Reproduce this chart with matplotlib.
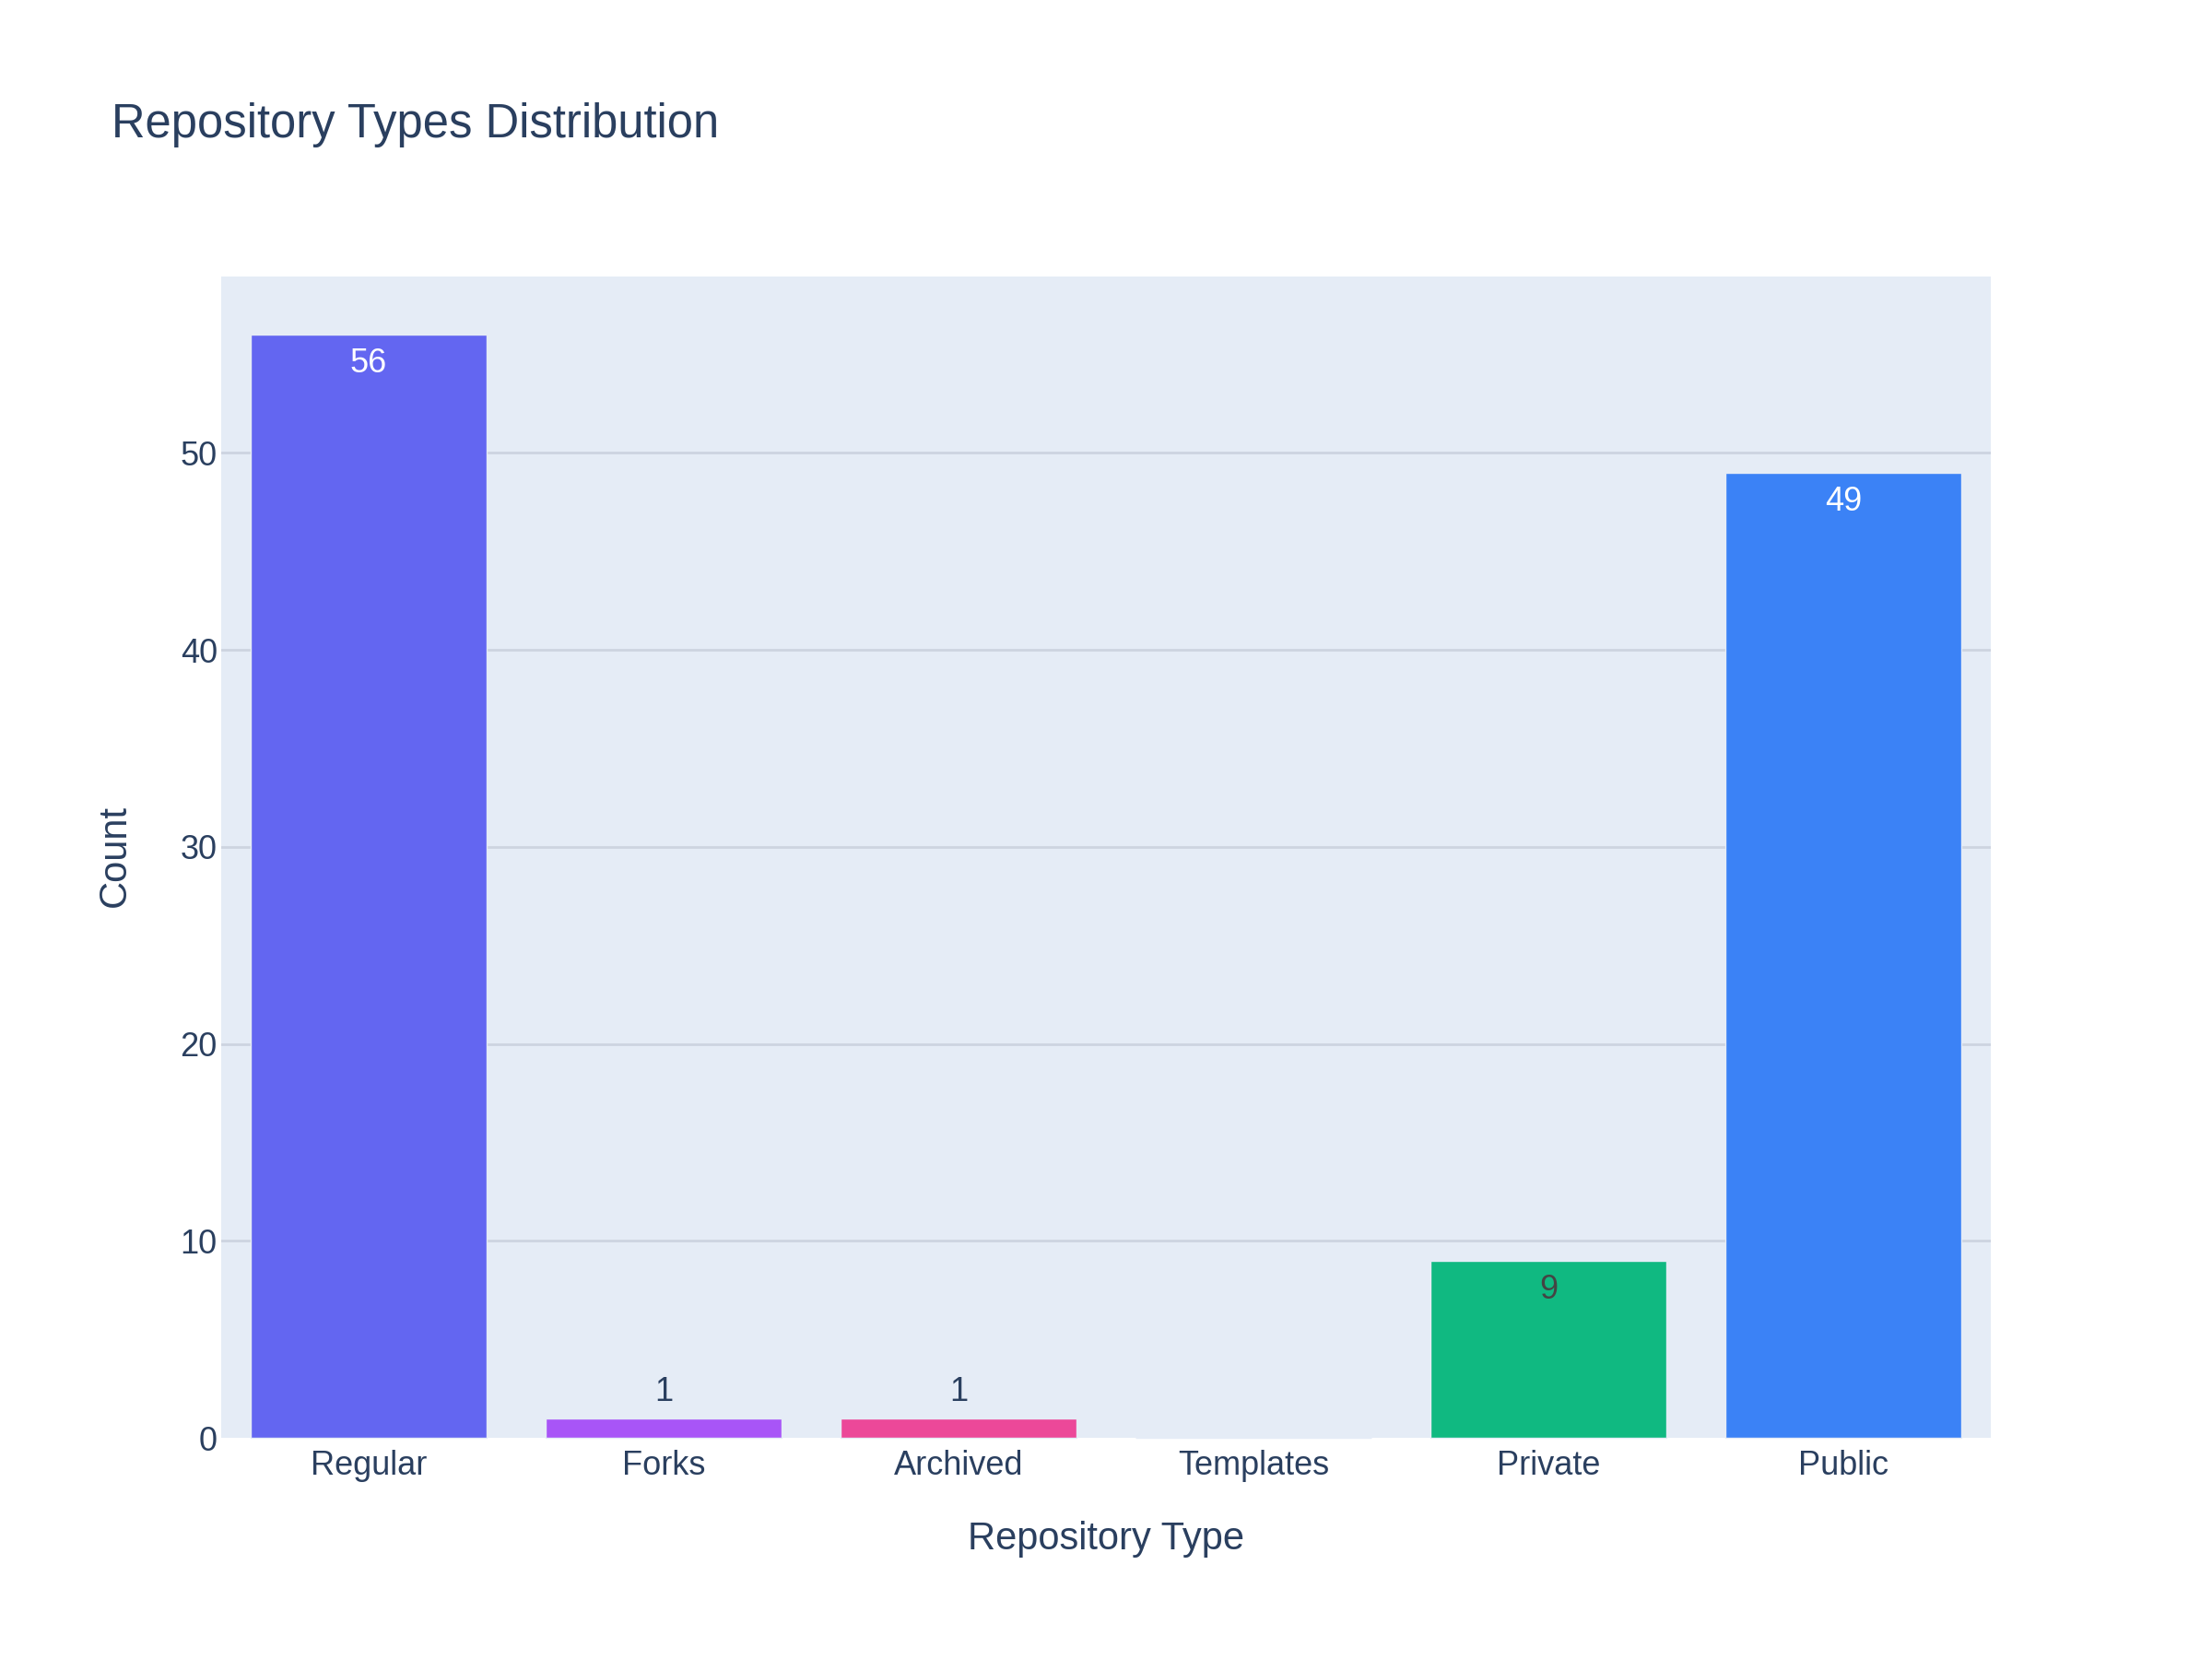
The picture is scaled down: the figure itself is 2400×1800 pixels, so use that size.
import matplotlib
matplotlib.use("Agg")
import matplotlib.pyplot as plt

categories = ["Regular", "Forks", "Archived", "Templates", "Private", "Public"]
counts = [56, 1, 1, 0, 9, 49]
colors = ["#6366F1", "#A855F7", "#EC4899", "#F59E0B", "#10B981", "#3B82F6"]
label_colors = ["white", None, None, None, "#444444", "white"]
yticks = [0, 10, 20, 30, 40, 50]

plt.rcParams['font.family'] = ['Liberation Sans', 'DejaVu Sans']
TXT = "#2a3f5f"

fig = plt.figure(figsize=(24, 18), dpi=100)
ax = fig.add_axes([240/2400, 1-1560/1800, 1920/2400, 1260/1800])
ax.set_facecolor("#E5ECF6")

x = list(range(len(categories)))
ax.bar(x, counts, width=0.8, color=colors, edgecolor="#E5ECF6", linewidth=1.0, zorder=3, clip_on=False)

ax.set_xlim(-0.5, len(categories) - 0.5)
ax.set_ylim(0, 58.95)
ax.set_yticks(yticks)
ax.set_yticklabels([str(v) for v in yticks])
ax.set_xticks(x)
ax.set_xticklabels(categories)
ax.tick_params(axis='both', length=0, labelsize=26, labelcolor=TXT)
ax.tick_params(axis='y', pad=3)
ax.tick_params(axis='x', pad=9)
for s in ax.spines.values():
    s.set_visible(False)
ax.yaxis.grid(True, color="#CDD4E0", linewidth=2.0, zorder=0)
ax.set_axisbelow(True)
ax.get_ygridlines()[0].set_visible(False)

for xi, v, lc in zip(x, counts, label_colors):
    if v == 0:
        continue
    if lc is not None:
        ax.annotate(str(v), (xi, v), xytext=(0, -23), textcoords="offset points",
                    ha="center", va="center", fontsize=26, color=lc, zorder=4)
    else:
        ax.annotate(str(v), (xi, v), xytext=(0, 20), textcoords="offset points",
                    ha="center", va="center", fontsize=26, color=TXT, zorder=4)

fig.text(121/2400, 1-136/1800, "Repository Types Distribution", fontsize=36.5,
         color=TXT, ha="left", va="center")
fig.text(125/2400, 1-929/1800, "Count", fontsize=30, color=TXT,
         rotation=90, ha="center", va="center")
fig.text(1200/2400, 1-1670/1800, "Repository Type", fontsize=30, color=TXT,
         ha="center", va="center")

fig.savefig("out.png", dpi=100, facecolor="white")
